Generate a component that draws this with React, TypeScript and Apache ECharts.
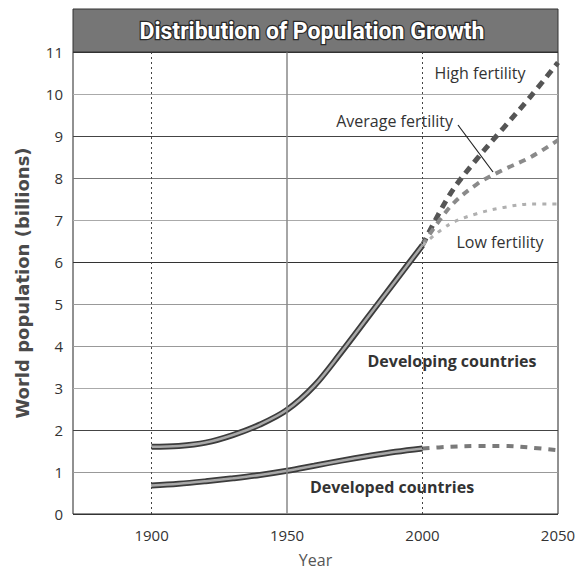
import React, { useEffect, useRef } from "react";
import * as echarts from "echarts";

// ---- data ----
const years = [1900, 1910, 1920, 1930, 1940, 1950, 1960, 1970, 1980, 1990, 2000];
const developing = [1.6, 1.62, 1.7, 1.88, 2.13, 2.48, 3.05, 3.85, 4.7, 5.55, 6.4];
const developed = [0.68, 0.72, 0.78, 0.85, 0.93, 1.03, 1.15, 1.27, 1.38, 1.48, 1.56];
const projYears = [2000, 2010, 2020, 2030, 2040, 2050];
const highFertility = [6.4, 7.6, 8.45, 9.2, 9.95, 10.75];
const averageFertility = [6.4, 7.3, 7.85, 8.2, 8.5, 8.9];
const lowFertility = [6.4, 6.9, 7.15, 7.3, 7.38, 7.38];
const developedProjection = [1.56, 1.6, 1.62, 1.62, 1.58, 1.52];
const xTickLabels = [1900, 1950, 2000, 2050];
const gridYears = [1900, 1950, 2000];

const title = "Distribution of Population Growth";
const yName = "World population (billions)";
const xName = "Year";

const zip = (xs: number[], ys: number[]) => xs.map((x, i) => [x, ys[i]]);

export default function App() {
  const ref = useRef<HTMLDivElement>(null);
  useEffect(() => {
    if (!ref.current) return;
    const chart = echarts.init(ref.current, null, { renderer: "svg" });
    const font = "'Open Sans', 'DejaVu Sans', sans-serif";
    const solidOuter = (name: string, data: number[][]) => ({
      name,
      type: "line",
      data,
      smooth: 0.35,
      symbol: "none",
      z: 3,
      lineStyle: { color: "#3c3c3c", width: 6 },
    });
    const solidInner = (name: string, data: number[][]) => ({
      name,
      type: "line",
      data,
      smooth: 0.35,
      symbol: "none",
      z: 4,
      lineStyle: { color: "#a8a8a8", width: 2.5 },
    });
    const dashed = (name: string, data: number[][], color: string, width: number, dash: number[]) => ({
      name,
      type: "line",
      data,
      smooth: 0.35,
      symbol: "none",
      z: 3,
      lineStyle: { color, width, type: dash },
    });
    const gridColors = ["#333", "#999", "#444", "#aaa", "#999", "#999", "#333", "#aaa", "#777", "#444", "#aaa", "#333"];

    chart.setOption({
      animation: false,
      backgroundColor: "#ffffff",
      grid: {
        left: 73,
        right: 23,
        top: 52,
        bottom: 60,
        show: true,
        borderColor: "#222",
        borderWidth: 1,
        backgroundColor: "transparent",
      },
      xAxis: {
        type: "value",
        min: 1871,
        max: 2050,
        name: xName,
        nameLocation: "middle",
        nameGap: 38,
        nameTextStyle: { fontFamily: font, fontSize: 16, color: "#555" },
        axisLine: { show: false },
        axisTick: { show: false },
        splitLine: { show: false },
        axisLabel: {
          customValues: xTickLabels,
          formatter: (v: number) => String(v),
          margin: 13,
          fontFamily: font,
          fontSize: 15,
          color: "#333",
        },
      },
      yAxis: {
        type: "value",
        min: 0,
        max: 11,
        interval: 1,
        name: yName,
        nameLocation: "middle",
        nameGap: 42,
        nameRotate: 90,
        nameTextStyle: { fontFamily: "'DejaVu Sans', sans-serif", fontSize: 18, fontWeight: "bold", color: "#4a4a4a" },
        axisLine: { show: false },
        axisTick: { show: false },
        axisLabel: { margin: 10, fontFamily: font, fontSize: 15, color: "#333" },
        splitLine: { show: true, lineStyle: { color: gridColors, width: 1 } },
      },
      series: [
        {
          name: "gridlines",
          type: "line",
          data: [],
          markLine: {
            silent: true,
            symbol: "none",
            label: { show: false },
            data: gridYears.map((y) => ({
              xAxis: y,
              lineStyle: y === 1950
                ? { color: "#888", width: 1.5, type: "solid" }
                : { color: "#444", width: 1, type: [2, 3] },
            })),
          },
        },
        dashed("High fertility", zip(projYears, highFertility), "#555", 5, [8, 6]),
        dashed("Average fertility", zip(projYears, averageFertility), "#8a8a8a", 4, [7, 6]),
        dashed("Low fertility", zip(projYears, lowFertility), "#b0b0b0", 3, [4, 6]),
        dashed("Developed projection", zip(projYears, developedProjection), "#7a7a7a", 4, [7, 7]),
        solidOuter("Developing countries", zip(years, developing)),
        solidInner("Developing countries inner", zip(years, developing)),
        solidOuter("Developed countries", zip(years, developed)),
        solidInner("Developed countries inner", zip(years, developed)),
      ],
      graphic: [
        {
          type: "rect",
          shape: { x: 73, y: 9, width: 485, height: 43 },
          style: { fill: "#767676", stroke: "#333", lineWidth: 1 },
          z: 10,
        },
        {
          type: "text",
          x: 312,
          y: 31,
          z: 11,
          style: {
            text: title,
            align: "center",
            verticalAlign: "middle",
            fontFamily: "'Liberation Sans Narrow', 'Roboto', sans-serif",
            fontWeight: "bold",
            fontSize: 23,
            fill: "#ffffff",
            stroke: "#2a2a2a",
            lineWidth: 2.5,
          },
        },
        {
          type: "text",
          x: 480,
          y: 73,
          z: 11,
          style: { text: "High fertility", align: "center", verticalAlign: "middle", fontFamily: font, fontSize: 16, fill: "#333" },
        },
        {
          type: "text",
          x: 453,
          y: 121,
          z: 11,
          style: { text: "Average fertility", align: "right", verticalAlign: "middle", fontFamily: font, fontSize: 16, fill: "#333" },
        },
        {
          type: "line",
          z: 11,
          shape: { x1: 458, y1: 125, x2: 493, y2: 172 },
          style: { stroke: "#222", lineWidth: 1.2 },
        },
        {
          type: "text",
          x: 500,
          y: 242,
          z: 11,
          style: { text: "Low fertility", align: "center", verticalAlign: "middle", fontFamily: font, fontSize: 16, fill: "#333" },
        },
        {
          type: "text",
          x: 452,
          y: 361,
          z: 11,
          style: { text: "Developing countries", align: "center", verticalAlign: "middle", fontFamily: font, fontSize: 16, fontWeight: "bold", fill: "#333" },
        },
        {
          type: "text",
          x: 392,
          y: 487,
          z: 11,
          style: { text: "Developed countries", align: "center", verticalAlign: "middle", fontFamily: font, fontSize: 16, fontWeight: "bold", fill: "#333" },
        },
      ],
    });
    return () => chart.dispose();
  }, []);
  return (
    <div
      ref={ref}
      style={{ position: "absolute", left: 0, top: 0, width: 581, height: 574 }}
    />
  );
}
